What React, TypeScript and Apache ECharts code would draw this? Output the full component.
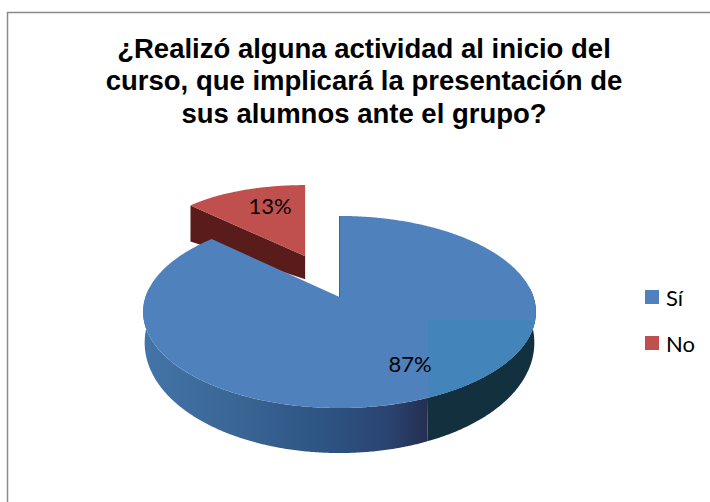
import React, { useEffect, useRef } from "react";
import * as echarts from "echarts";

const titleText = "¿Realizó alguna actividad al inicio del\ncurso, que implicará la presentación de\nsus alumnos ante el grupo?";
const categories = ["Sí", "No"];
const percentages = [87, 13];
const sliceColors = ["#4f81bd", "#c0504d"];

// Projection of the tilted disc
const CX = 339.5, CY = 297, RX = 194, RY = 93.7, K = 0.156;
const EXPLODE = 0.51;
const rad = (d: number) => (d * Math.PI) / 180;
const total = percentages.reduce((a, b) => a + b, 0);

function project(u: number, v: number) {
  const w = 1 - K * v;
  return [CX + (RX * u) / w, CY + (RY * v) / w];
}
function disc(theta: number, r = 1) {
  return [r * Math.sin(rad(theta)), -r * Math.cos(rad(theta))];
}
function range(a: number, b: number, step = 1) {
  const out: number[] = [];
  const n = Math.max(2, Math.ceil(Math.abs(b - a) / step));
  for (let i = 0; i <= n; i++) out.push(a + ((b - a) * i) / n);
  return out;
}
function poly(points: number[][], fill: any, extra: any = {}) {
  return { type: "polygon", shape: { points }, style: { fill, ...extra }, silent: true };
}
function label(text: string, p: number[]) {
  return {
    type: "text",
    x: p[0],
    y: p[1],
    z2: 50,
    silent: true,
    style: { text, fill: "#000", font: '22px Lato, "Open Sans", sans-serif', textAlign: "center", textVerticalAlign: "middle" },
  };
}

// Blue: larger slice, starting at 12 o'clock
function renderYes(_: any, api: any) {
  const value = api.value(0);
  const sweep = (value / total) * 360;
  const rim = range(0, sweep, 0.5).map((t) => project(disc(t)[0], disc(t)[1]));
  const lower = (t: number) => {
    const [u, v] = disc(t);
    const p = project(u * 0.992, v);
    return [p[0], p[1] + 28 + 17 * v];
  };
  const front = range(84, 276, 0.5);
  const topFront = front.map((t) => project(disc(t)[0], disc(t)[1]));
  let split = 0;
  topFront.forEach((p, i) => { if (p[0] >= 428) split = i; });
  const wallRight = [...topFront.slice(0, split + 1), ...front.slice(0, split + 1).reverse().map(lower)];
  const wallLeft = [...topFront.slice(split), ...front.slice(split).reverse().map(lower)];
  const tile = [[428, 320], ...rim.filter((p) => p[0] >= 428 && p[1] >= 320)];
  const apex = project(0, 0);
  const gradient = new echarts.graphic.LinearGradient(0, 0, 1, 0, [
    { offset: 0, color: "#4474a8" },
    { offset: 0.3, color: "#3b6797" },
    { offset: 0.62, color: "#2e5584" },
    { offset: 0.86, color: "#2a4471" },
    { offset: 1, color: "#252e50" },
  ]);
  const labelPoint = disc(sweep / 2 - 3.6, 0.72);
  return {
    type: "group",
    children: [
      poly(wallLeft, gradient),
      poly(wallRight, "#13303f"),
      poly([apex, ...rim], sliceColors[0]),
      poly(tile, "#4385bb"),
      { type: "line", shape: { x1: apex[0], y1: apex[1], x2: rim[0][0], y2: rim[0][1] }, style: { stroke: "#3d648f", lineWidth: 1 }, silent: true },
      label(`${value}%`, project(labelPoint[0], labelPoint[1])),
    ],
  };
}

// Red: exploded slice behind the blue one
function renderNo(_: any, api: any) {
  const value = api.value(0);
  const start = (percentages[0] / total) * 360;
  const sweep = (value / total) * 360;
  const mid = start + sweep / 2;
  const [su, sv] = disc(mid, EXPLODE);
  const at = (u: number, v: number) => {
    const p = project(u + su, v + sv);
    return [337 + 157.3 * (u + su), p[1]];
  };
  const rim = range(start, start + sweep, 0.5).map((t) => at(disc(t)[0], disc(t)[1]));
  const tip = at(0, 0);
  const corner = rim[0];
  const lowered = (p: number[], depth: number) => [p[0], p[1] + depth];
  const labelPoint = disc(mid + 5.4, 0.72);
  return {
    type: "group",
    children: [
      poly([tip, corner, lowered(corner, 36), lowered(tip, 23)], "#5a1c1a"),
      poly([tip, ...rim], sliceColors[1]),
      label(`${value}%`, at(labelPoint[0], labelPoint[1])),
    ],
  };
}

export default function App() {
  const ref = useRef<HTMLDivElement>(null);
  useEffect(() => {
    document.body.style.margin = "0";
    document.body.style.background = "#fff";
    const chart = echarts.init(ref.current!, undefined, { renderer: "svg" });
    chart.setOption({
      animation: false,
      backgroundColor: "#ffffff",
      title: {
        text: titleText,
        left: 364,
        top: 32,
        padding: 0,
        textAlign: "center",
        textStyle: { fontFamily: '"Liberation Sans", Arial, sans-serif', fontWeight: "bold", fontSize: 27.5, lineHeight: 32.5, color: "#000" },
      },
      legend: {
        data: categories,
        orient: "vertical",
        left: 645,
        top: 286,
        padding: 0,
        icon: "rect",
        itemWidth: 14,
        itemHeight: 14,
        itemGap: 24,
        textStyle: { fontFamily: 'Lato, "Open Sans", sans-serif', fontSize: 22, color: "#000", padding: [0, 0, 0, 2] },
        selectedMode: false,
      },
      graphic: [
        { type: "polyline", shape: { points: [[7.5, 502], [7.5, 12.5], [710, 12.5]] }, style: { stroke: "#8a8a8a", lineWidth: 1.5, fill: "none" }, silent: true },
      ],
      series: [
        { type: "custom", name: categories[1], coordinateSystem: "none", renderItem: renderNo, data: [[percentages[1]]], itemStyle: { color: sliceColors[1] }, z: 2 },
        { type: "custom", name: categories[0], coordinateSystem: "none", renderItem: renderYes, data: [[percentages[0]]], itemStyle: { color: sliceColors[0] }, z: 3 },
      ],
    });
    return () => chart.dispose();
  }, []);
  return <div ref={ref} style={{ width: 710, height: 502 }} />;
}
